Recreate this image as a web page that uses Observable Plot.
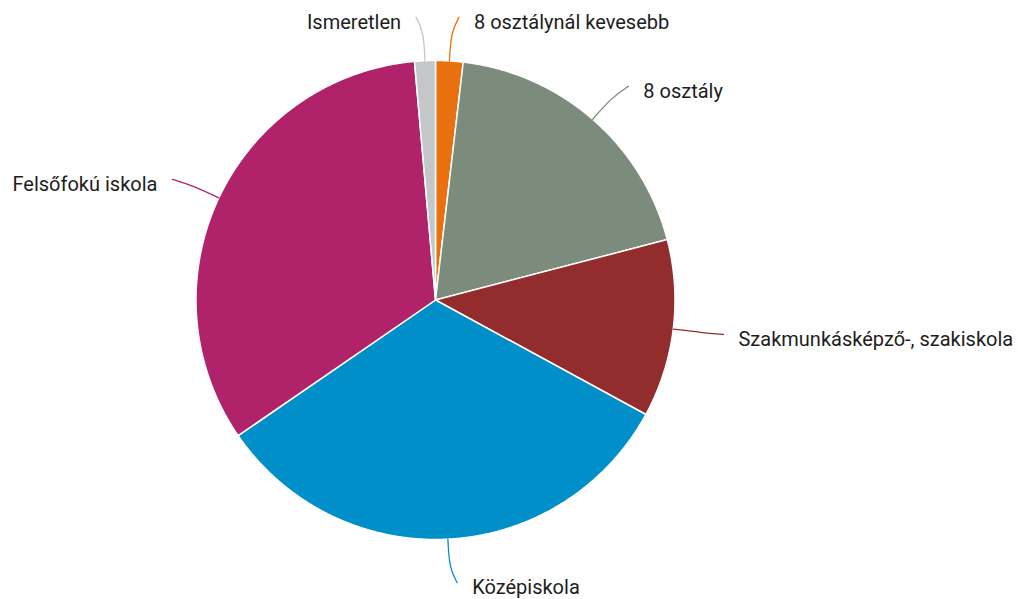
<!DOCTYPE html>
<html>
<head>
<meta charset="utf-8">
<script src="https://cdn.jsdelivr.net/npm/d3@7"></script>
<script src="https://cdn.jsdelivr.net/npm/@observablehq/plot@0.6"></script>
<style>
  html, body { margin: 0; padding: 0; background: #fff; overflow: hidden; }
  #chart svg { display: block; }
</style>
</head>
<body>
<div id="chart"></div>
<script>
// Data
const labels = ["8 osztálynál kevesebb", "8 osztály", "Szakmunkásképző-, szakiskola", "Középiskola", "Felsőfokú iskola", "Ismeretlen"];
const values = [1.85, 19.1, 12.0, 32.5, 33.2, 1.4];
const colors = ["#e8700e", "#7b8b7c", "#922c2d", "#008fc9", "#b0236b", "#c5c6c8"];

// Layout
const W = 1018, H = 599;
const cx = 435, cy = 299.5, R = 239.5;
const px = 1 / R; // one pixel in pie units

const arcs = d3.pie().sort(null).value(d => d.value)(labels.map((label, i) => ({label, value: values[i], color: colors[i]})));

const pt = (a, r) => ({x: r * Math.sin(a), y: r * Math.cos(a)});

// Slice polygons
const slices = arcs.map(a => {
  const pts = [{x: 0, y: 0}];
  const n = Math.max(2, Math.ceil((a.endAngle - a.startAngle) / (Math.PI / 720)));
  for (let k = 0; k <= n; k++) pts.push(pt(a.startAngle + (a.endAngle - a.startAngle) * k / n, 1));
  pts.push({x: 0, y: 0});
  return {color: a.data.color, pts};
});

// Leader lines and labels
const leaders = arcs.map(a => {
  const mid = (a.startAngle + a.endAngle) / 2;
  const side = Math.sin(mid) >= 0 ? 1 : -1;
  const s = pt(mid, 1.0);
  const c = pt(mid, 1.12);
  const e0 = pt(mid, 1.182);
  const e = {x: e0.x + side * 7 * px, y: e0.y};
  return {label: a.data.label, color: a.data.color, side, pts: [s, c, e], end: e};
});

const marks = [];
for (const s of slices) {
  marks.push(Plot.line(s.pts, {x: "x", y: "y", fill: s.color, stroke: "#fff", strokeWidth: 1.5, curve: "linear"}));
}
for (const l of leaders) {
  marks.push(Plot.line(l.pts, {x: "x", y: "y", stroke: l.color, strokeWidth: 1.3, curve: "basis"}));
}
const rightLabels = leaders.filter(l => l.side > 0);
const leftLabels = leaders.filter(l => l.side < 0);
marks.push(Plot.text(rightLabels, {x: d => d.end.x, y: d => d.end.y, text: "label", textAnchor: "start", dx: 15, dy: 5, fontSize: 20, fill: "#1d1d1d"}));
marks.push(Plot.text(leftLabels, {x: d => d.end.x, y: d => d.end.y, text: "label", textAnchor: "end", dx: -15, dy: 5, fontSize: 20, fill: "#1d1d1d"}));

const chart = Plot.plot({
  width: W,
  height: H,
  margin: 0,
  x: {domain: [-1, 1], range: [cx - R, cx + R], axis: null},
  y: {domain: [-1, 1], range: [cy + R, cy - R], axis: null},
  style: {fontFamily: "Roboto, sans-serif", fontSize: "20px", background: "#fff", overflow: "visible"},
  marks
});
document.getElementById("chart").appendChild(chart);
</script>
</body>
</html>
